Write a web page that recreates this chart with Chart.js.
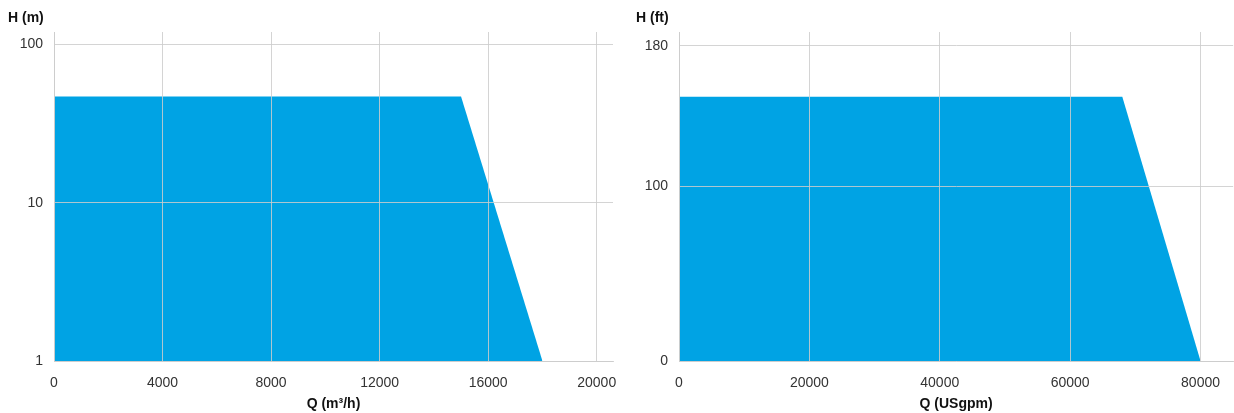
<!DOCTYPE html>
<html>
<head>
<meta charset="utf-8">
<script src="https://cdn.jsdelivr.net/npm/chart.js@4.4.1/dist/chart.umd.min.js"></script>
<style>
  body { margin: 0; background: #fff; font-family: "Liberation Sans", Arial, sans-serif; }
  .box { position: absolute; top: 0; height: 413px; }
  .unit { position: absolute; top: 9px; font-weight: bold; font-size: 14px; color: #111; }
</style>
</head>
<body>
<div class="box" id="leftBox" style="left:0;width:645px"><canvas id="chartM"></canvas></div>
<div class="box" id="rightBox" style="left:625px;width:609px"><canvas id="chartUs"></canvas></div>
<div class="unit" style="left:8px">H (m)</div>
<div class="unit" style="left:636px">H (ft)</div>
<script>
// metric curve (m³/h, m)
const qMetric = [0, 15000, 18000];
const hMetric = [47, 47, 1];
const qMetricTicks = [0, 4000, 8000, 12000, 16000, 20000];
const hMetricTicks = [1, 10, 100];

// US curve (USgpm, ft)
const qUs = [0, 68000, 80000];
const hUs = [151, 151, 0];
const qUsTicks = [0, 20000, 40000, 60000, 80000];
const hUsTicks = [0, 100, 180];

const blue = '#00a3e4';
const gridCol = 'rgba(205,205,205,0.85)';
const tickFont = { family: '"Liberation Sans", Arial, sans-serif', size: 14 };

function makeChart(id, qs, hs, xTicks, yTicks, xMax, yType, yMin, yMax, xTitle, padRight) {
  const pts = qs.map((q, i) => ({ x: q, y: hs[i] }));
  return new Chart(document.getElementById(id), {
    type: 'line',
    data: {
      datasets: [{
        data: pts,
        backgroundColor: blue,
        borderWidth: 0,
        pointRadius: 0,
        tension: 0,
        fill: 'start'
      }]
    },
    options: {
      responsive: true,
      maintainAspectRatio: false,
      animation: false,
      layout: { padding: { top: 32, right: padRight, left: 0, bottom: 0 } },
      plugins: { legend: { display: false }, tooltip: { enabled: false } },
      scales: {
        x: {
          type: 'linear',
          min: 0,
          max: xMax,
          afterBuildTicks: s => { s.ticks = xTicks.map(v => ({ value: v })); },
          afterFit: s => { s.height = 52; },
          grid: { color: gridCol, drawTicks: false, z: 1 },
          border: { color: gridCol, z: 1 },
          ticks: { padding: 14, color: '#333', font: tickFont, maxRotation: 0, callback: v => String(v) },
          title: {
            display: true,
            text: xTitle,
            color: '#111',
            font: { family: '"Liberation Sans", Arial, sans-serif', size: 14, weight: 'bold' },
            padding: { top: 0, bottom: 0 }
          }
        },
        y: {
          type: yType,
          min: yMin,
          max: yMax,
          afterBuildTicks: s => { s.ticks = yTicks.map(v => ({ value: v })); },
          afterFit: s => { s.width = 54; },
          grid: { color: gridCol, drawTicks: false, z: 1 },
          border: { color: gridCol, z: 1 },
          ticks: { padding: 11, color: '#333', font: tickFont, callback: v => String(v) }
        }
      }
    }
  });
}

makeChart('chartM', qMetric, hMetric, qMetricTicks, hMetricTicks, 20600, 'logarithmic', 1, 120, 'Q (m³/h)', 32);
makeChart('chartUs', qUs, hUs, qUsTicks, hUsTicks, 85000, 'linear', 0, 188, 'Q (USgpm)', 0);
</script>
</body>
</html>
